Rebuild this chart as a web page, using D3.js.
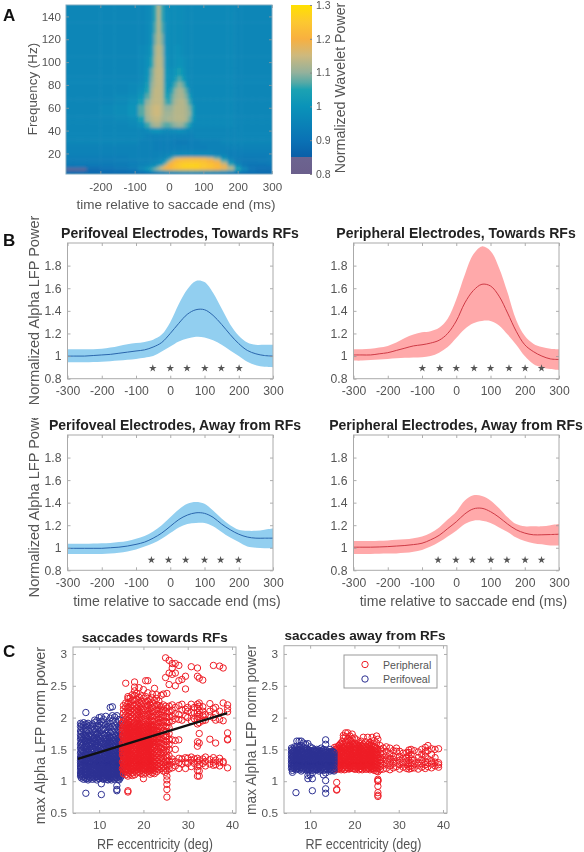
<!DOCTYPE html>
<html><head><meta charset="utf-8">
<script src="https://cdn.jsdelivr.net/npm/d3@7"></script>
<style>html,body{margin:0;padding:0;background:#fff}svg{display:block;filter:blur(.35px)}text{font-family:"Liberation Sans",Arial,sans-serif}</style>
</head><body><svg id="c" width="584" height="852"></svg>
<script>
// ---------- Panel A data
const heatTimes=[-300,-260,-220,-180,-140,-100,-80,-60,-50,-40,-30,-20,-10,0,10,20,30,40,50,60,70,80,100,120,140,160,180,200,220,240,270,300];
const heatFreqs=[150,140,130,120,110,100,90,85,80,75,70,65,60,55,50,45,40,35,30,25,20,18,16,14,12,10,8,6,4,2];
const heatValues=[
[96,96,96,96,96,96,96,97,98,106,113,106,99,98,98,98,98,98,97,97,97,97,97,97,97,97,97,96,96,96,96,96],
[96,96,96,96,96,96,96,97,98,106,113,106,99,98,98,98,98,98,97,97,97,97,97,97,97,97,97,96,96,96,96,96],
[96,96,96,96,96,96,96,97,99,107,113,107,99,98,98,98,98,98,97,97,97,97,97,97,97,97,97,96,96,96,96,96],
[96,96,96,96,96,96,96,97,100,109,113,109,99,98,98,98,98,98,97,97,97,97,97,97,97,97,97,96,96,96,96,96],
[96,96,96,96,96,96,97,98,102,111,114,111,100,98,98,99,99,98,97,97,97,97,97,97,97,97,97,96,96,96,96,96],
[96,96,96,96,96,96,97,99,105,112,114,112,101,98,98,99,100,99,98,97,97,97,97,97,97,97,97,96,96,96,96,96],
[96,96,96,96,96,96,97,100,108,113,114,113,102,99,99,101,104,101,98,97,97,97,97,97,97,97,97,96,96,96,96,96],
[96,96,96,96,96,96,97,101,109,113,114,113,102,99,100,103,107,104,99,97,97,97,97,97,97,97,97,96,96,96,96,96],
[96,96,96,96,96,97,98,103,110,113,114,113,103,99,102,107,110,108,102,97,97,97,97,97,97,97,97,96,96,96,96,96],
[96,96,96,96,96,97,99,105,111,114,114,113,104,100,106,110,112,111,107,98,97,97,97,97,97,97,97,96,96,96,96,96],
[96,96,96,96,97,98,101,107,112,114,114,113,105,103,108,111,112,112,109,103,97,97,97,97,97,97,97,96,96,96,96,96],
[96,96,96,96,97,99,104,110,113,114,114,113,107,105,109,112,113,113,111,106,98,97,97,97,97,97,97,96,96,96,96,96],
[96,96,96,97,98,100,107,112,114,115,115,113,110,110,111,113,113,113,112,109,103,97,97,97,97,97,97,96,96,96,96,96],
[96,96,96,97,98,100,107,112,114,115,115,113,111,111,112,113,113,113,112,110,103,97,97,97,97,97,97,96,96,96,96,96],
[96,96,96,96,97,98,104,111,113,114,114,112,111,112,112,113,113,113,112,108,101,97,97,97,97,97,97,96,96,96,96,96],
[96,96,96,96,96,97,99,106,110,112,112,109,107,107,109,110,111,110,107,103,97,97,97,97,97,97,97,96,96,96,96,96],
[96,96,96,96,96,96,96,97,99,100,100,98,97,97,98,98,99,98,97,96,96,96,96,96,96,96,96,96,96,96,96,96],
[96,96,96,96,96,96,96,95,95,95,95,95,95,95,95,95,95,95,95,95,95,96,96,96,96,96,96,96,96,96,96,96],
[96,96,96,96,96,96,95,95,95,94,94,94,94,94,94,93,93,93,93,94,94,94,95,95,95,96,96,96,96,96,96,96],
[95,95,95,95,95,95,95,95,95,94,94,94,94,94,94,94,94,94,94,94,94,94,94,95,95,95,95,95,95,95,95,95],
[95,95,95,95,95,95,95,95,95,95,95,95,95,95,96,96,96,96,96,96,96,96,96,96,95,95,94,94,94,94,94,94],
[94,94,94,94,94,95,95,95,95,95,95,95,96,97,98,98,99,99,99,99,99,99,99,98,98,96,94,94,93,93,93,94],
[94,94,94,94,94,95,95,95,95,95,96,96,97,99,108,114,116,117,118,118,118,118,117,114,108,99,95,93,93,93,93,94],
[93,93,93,93,94,94,95,95,95,96,96,97,99,108,116,120,122,122,123,123,123,123,122,120,116,106,96,93,92,92,93,93],
[93,93,93,93,93,94,95,95,96,96,97,100,106,116,120,123,124,125,125,125,125,125,124,122,120,112,100,94,92,92,92,93],
[92,92,92,92,93,94,95,96,97,98,100,105,114,120,122,124,125,126,127,127,127,127,125,124,122,117,106,96,92,91,91,92],
[90,90,90,91,92,94,96,98,100,103,109,115,119,121,122,124,125,127,127,127,127,127,125,124,122,119,112,102,94,91,90,90],
[84,85,88,90,91,92,97,102,106,110,113,116,119,120,121,122,123,123,123,123,123,123,122,121,120,117,113,105,97,91,89,89],
[88,88,88,88,89,90,92,94,96,98,100,101,103,104,105,105,106,106,106,106,106,106,105,105,104,102,99,95,92,90,89,89],
[89,89,89,89,89,89,89,90,90,90,90,90,90,90,90,90,90,90,90,90,90,90,90,90,90,90,90,89,89,89,89,89]];
const colorValues=[0.8,0.85,0.851,0.9,1.0,1.05,1.07,1.1,1.15,1.2,1.25,1.3];
const colorStops=["#6b5f8c","#6c6490","#0a5fa8","#0a72b5","#0a93b9","#1ca2b2","#55a9a6","#93b19c","#cdb97e","#f8b040","#fcc830","#ffe000"];
const cbTicks=[0.8,0.9,1,1.1,1.2,1.3];
const heatXTicks=[-200,-100,0,100,200,300];
const heatYTicks=[20,40,60,80,100,120,140];
// ---------- Panel B data
const curveTimes=[-300,-275,-250,-225,-200,-175,-150,-125,-100,-75,-50,-25,0,25,50,75,100,125,150,175,200,225,250,275,300];
const periTowardMean=[1,1,1,1.005,1.01,1.015,1.025,1.035,1.045,1.055,1.08,1.12,1.2,1.29,1.37,1.41,1.41,1.36,1.28,1.19,1.11,1.05,1.02,1.005,1];
const periTowardUp=[1.06,1.06,1.06,1.06,1.065,1.075,1.09,1.105,1.115,1.125,1.145,1.19,1.3,1.46,1.59,1.665,1.655,1.56,1.42,1.28,1.18,1.12,1.1,1.1,1.1];
const periTowardLo=[.945,.945,.945,.947,.95,.955,.96,.968,.975,.985,1,1.04,1.085,1.13,1.155,1.17,1.165,1.14,1.1,1.05,1,.95,.92,.905,.9];
const phTowardMean=[1.01,1.01,1.01,1.02,1.03,1.05,1.07,1.09,1.1,1.115,1.14,1.2,1.31,1.47,1.58,1.635,1.62,1.53,1.38,1.22,1.1,1.04,1,.975,.97];
const phTowardUp=[1.06,1.06,1.065,1.075,1.09,1.12,1.16,1.19,1.21,1.22,1.25,1.33,1.5,1.72,1.9,1.97,1.93,1.78,1.56,1.32,1.18,1.11,1.08,1.065,1.06];
const phTowardLo=[.96,.96,.965,.97,.975,.98,.985,.988,.99,1,1.03,1.08,1.16,1.24,1.29,1.31,1.31,1.27,1.19,1.1,1,.93,.9,.885,.875];
const periAwayMean=[.995,.995,.995,.995,.995,1,1.005,1.015,1.03,1.05,1.085,1.13,1.19,1.25,1.29,1.31,1.305,1.27,1.21,1.16,1.12,1.095,1.085,1.085,1.085];
const periAwayUp=[1.035,1.035,1.035,1.037,1.04,1.043,1.05,1.06,1.08,1.105,1.145,1.2,1.27,1.34,1.39,1.405,1.39,1.33,1.26,1.2,1.16,1.15,1.15,1.16,1.17];
const periAwayLo=[.945,.945,.945,.945,.945,.948,.955,.967,.985,1.01,1.04,1.08,1.13,1.18,1.21,1.22,1.22,1.19,1.14,1.09,1.05,1.01,1,.995,.995];
const phAwayMean=[1.005,1.005,1.005,1.007,1.01,1.015,1.02,1.028,1.04,1.07,1.11,1.17,1.23,1.3,1.345,1.35,1.32,1.27,1.21,1.16,1.13,1.115,1.115,1.117,1.12];
const phAwayUp=[1.06,1.06,1.06,1.062,1.065,1.07,1.075,1.085,1.1,1.13,1.18,1.25,1.32,1.42,1.465,1.46,1.42,1.35,1.27,1.21,1.19,1.19,1.19,1.2,1.21];
const phAwayLo=[.945,.945,.945,.946,.948,.95,.955,.965,.98,1.01,1.05,1.1,1.15,1.21,1.24,1.24,1.22,1.18,1.14,1.09,1.06,1.04,1.03,1.02,1.02];
const starsPeriToward=[-51,0,49,101,149,201];
const starsPhToward=[-99,-48,0,52,100,154,201,249];
const starsPeriAway=[-55,-5,45,100,147,199];
const starsPhAway=[-53,-1,47,101,148,201,249];
const bXTicks=[-300,-200,-100,0,100,200,300];
const bYTicks=[0.8,1,1.2,1.4,1.6,1.8];
// ---------- Panel C data: [eccentricity, [powers...]]
const towardPeri=[
[5.8,[1.08,1.13,1.19,1.24,1.29,1.33,1.38,1.44,1.52,1.58,1.66,1.73,1.79,1.86,1.91]],
[6,[1.05,1.11,1.16,1.21,1.26,1.31,1.36,1.41,1.49,1.55,1.62,1.69,1.77,1.84,1.89]],
[6.5,[1.03,1.09,1.14,1.18,1.23,1.28,1.34,1.39,1.46,1.53,1.6,1.67,1.74,1.81,1.88,1.92]],
[7,[.81,1.04,1.1,1.15,1.2,1.25,1.3,1.35,1.42,1.5,1.57,1.63,1.7,1.78,1.85,1.9,2.08]],
[7.5,[1.02,1.07,1.12,1.17,1.22,1.27,1.32,1.37,1.43,1.51,1.59,1.65,1.72,1.8,1.87,1.91]],
[8,[1.06,1.11,1.16,1.21,1.26,1.31,1.36,1.41,1.48,1.54,1.61,1.68,1.75,1.83,1.88]],
[8.5,[1.03,1.08,1.13,1.19,1.24,1.29,1.33,1.39,1.45,1.52,1.58,1.64,1.71,1.79,1.86,1.9]],
[9,[1.05,1.1,1.15,1.2,1.25,1.3,1.35,1.4,1.47,1.56,1.62,1.69,1.76,1.82,1.92,1.96]],
[9.5,[1.02,1.07,1.12,1.18,1.23,1.28,1.34,1.38,1.44,1.5,1.59,1.66,1.73,1.81,1.87,1.95]],
[10,[1.04,1.09,1.14,1.19,1.24,1.29,1.34,1.41,1.48,1.55,1.63,1.7,1.77,1.84,1.9,2]],
[10.5,[.79,.96,1.06,1.11,1.16,1.21,1.26,1.31,1.36,1.42,1.49,1.57,1.64,1.72,1.8,1.88,1.94,2.01]],
[11,[1.03,1.08,1.13,1.18,1.23,1.28,1.33,1.39,1.46,1.53,1.6,1.67,1.74,1.83,1.9,1.97]],
[11.5,[1.05,1.1,1.15,1.2,1.25,1.3,1.35,1.4,1.47,1.54,1.61,1.68,1.75,1.81,1.89,2.02]],
[12,[1.02,1.07,1.12,1.17,1.22,1.27,1.32,1.37,1.43,1.51,1.58,1.65,1.72,1.79,1.86,1.93]],
[12.5,[1.04,1.09,1.14,1.19,1.24,1.3,1.36,1.42,1.49,1.56,1.62,1.69,1.76,1.84,1.91,1.99,2.16]],
[13,[1.06,1.11,1.16,1.21,1.26,1.31,1.37,1.44,1.5,1.57,1.64,1.71,1.78,1.86,1.95,2.03,2.17]],
[13.5,[1.03,1.08,1.13,1.18,1.23,1.28,1.33,1.39,1.45,1.52,1.59,1.66,1.74,1.82,1.88,2.01]],
[14,[.85,.87,.93,1.05,1.1,1.15,1.2,1.25,1.3,1.35,1.41,1.48,1.55,1.63,1.7,1.77,1.85,1.92,2.03]],
[14.5,[1.02,1.07,1.12,1.17,1.22,1.27,1.32,1.38,1.44,1.51,1.58,1.65,1.73,1.8,1.87,1.97]],
[15,[1.08,1.13,1.18,1.24,1.3,1.36,1.42,1.5,1.6,1.7,1.79,1.88,1.96]],
[5.9,[1.1,1.15,1.22,1.27,1.35,1.47,1.6,1.7]],
[6.25,[1.07,1.12,1.17,1.25,1.33,1.4,1.48,1.57,1.65]],
[6.75,[1.06,1.13,1.2,1.27,1.32,1.37,1.44,1.54,1.64,1.72]],
[7.25,[1.09,1.14,1.19,1.24,1.34,1.4,1.47,1.55,1.68]],
[7.75,[1.04,1.1,1.15,1.23,1.29,1.35,1.45,1.56,1.63,1.7]],
[8.25,[1.08,1.14,1.18,1.23,1.28,1.38,1.46,1.51,1.6,1.72]],
[8.75,[1.05,1.11,1.17,1.22,1.27,1.36,1.42,1.5,1.62,1.67]],
[9.25,[1.07,1.12,1.18,1.27,1.32,1.37,1.44,1.53,1.6,1.74]],
[9.75,[1.05,1.1,1.16,1.21,1.26,1.31,1.41,1.47,1.57,1.65,1.75]],
[10.25,[1.07,1.12,1.17,1.22,1.27,1.32,1.39,1.45,1.52,1.61,1.68]],
[10.75,[1.04,1.09,1.14,1.19,1.24,1.29,1.34,1.44,1.51,1.59,1.7]],
[11.25,[1.06,1.11,1.16,1.21,1.26,1.31,1.37,1.43,1.5,1.57,1.65,1.72]],
[11.75,[1.03,1.08,1.13,1.18,1.23,1.28,1.33,1.38,1.45,1.56,1.63]],
[12.25,[1.05,1.1,1.15,1.2,1.25,1.35,1.41,1.48,1.54,1.61,1.69]],
[12.75,[1.02,1.07,1.12,1.17,1.22,1.28,1.34,1.4,1.47,1.53,1.6,1.67]],
[13.25,[1.05,1.1,1.15,1.2,1.25,1.3,1.35,1.42,1.48,1.55,1.62,1.69]],
[13.75,[1.06,1.11,1.16,1.21,1.26,1.31,1.37,1.43,1.5,1.57,1.65,1.72]],
[14.25,[1.03,1.08,1.13,1.19,1.24,1.29,1.34,1.4,1.46,1.53,1.61,1.68]],
[14.75,[1.05,1.1,1.15,1.2,1.25,1.34,1.4,1.47,1.55,1.62,1.71]]];
const towardPh=[
[15.5,[1.12,1.17,1.22,1.27,1.33,1.38,1.44,1.5,1.56,1.62,1.68,1.74,1.81,1.87,1.94,2,2.07,2.13,2.19]],
[16,[1.1,1.15,1.2,1.26,1.31,1.36,1.42,1.47,1.53,1.6,1.66,1.72,1.78,1.84,1.91,1.97,2.04,2.1,2.17,2.23,2.54]],
[16.5,[.83,.85,1.08,1.14,1.19,1.24,1.3,1.35,1.41,1.48,1.54,1.59,1.65,1.71,1.77,1.83,1.9,1.96,2.02,2.09,2.16,2.22,2.3,2.33]],
[17,[1.11,1.16,1.21,1.27,1.32,1.37,1.43,1.49,1.55,1.61,1.67,1.73,1.79,1.86,1.92,1.99,2.05,2.11,2.18,2.25,2.31]],
[17.5,[1.09,1.13,1.18,1.23,1.29,1.34,1.4,1.46,1.52,1.58,1.64,1.7,1.76,1.82,1.88,1.95,2.01,2.08,2.14,2.2,2.28,2.36]],
[18,[1.1,1.16,1.21,1.26,1.32,1.38,1.44,1.5,1.56,1.63,1.69,1.75,1.81,1.87,1.93,1.99,2.06,2.12,2.19,2.27,2.35,2.42,2.48,2.56]],
[18.5,[1.13,1.18,1.24,1.29,1.35,1.41,1.47,1.53,1.59,1.65,1.71,1.77,1.84,1.9,1.96,2.03,2.09,2.15,2.21,2.29,2.38]],
[19,[1.14,1.19,1.25,1.3,1.36,1.42,1.48,1.54,1.6,1.66,1.72,1.78,1.85,1.91,1.98,2.04,2.1,2.17,2.24,2.32,2.47]],
[19.5,[1.12,1.17,1.22,1.28,1.33,1.39,1.45,1.51,1.57,1.62,1.68,1.74,1.8,1.87,1.93,2,2.06,2.13,2.2,2.26,2.34]],
[20,[1.04,1.11,1.16,1.21,1.27,1.34,1.4,1.46,1.52,1.58,1.64,1.7,1.76,1.83,1.89,1.95,2.02,2.08,2.14,2.22,2.3,2.44]],
[20.5,[1.13,1.18,1.23,1.29,1.35,1.41,1.47,1.53,1.59,1.65,1.71,1.78,1.84,1.9,1.97,2.03,2.11,2.18,2.25,2.33,2.58]],
[21,[1.15,1.2,1.26,1.31,1.37,1.43,1.49,1.55,1.61,1.67,1.73,1.79,1.86,1.92,1.98,2.05,2.12,2.19,2.26,2.39,2.58]],
[21.5,[1.11,1.16,1.22,1.28,1.33,1.39,1.45,1.51,1.57,1.63,1.69,1.75,1.81,1.88,1.94,2.01,2.07,2.14,2.21,2.28]],
[22,[1.13,1.19,1.24,1.3,1.36,1.42,1.48,1.54,1.6,1.66,1.72,1.77,1.83,1.89,1.95,2.02,2.09,2.16,2.23,2.31,2.37]],
[22.5,[1.12,1.17,1.23,1.29,1.34,1.4,1.46,1.52,1.58,1.64,1.7,1.76,1.82,1.89,1.96,2.03,2.1,2.18,2.27,2.46]],
[23,[1.15,1.2,1.25,1.31,1.37,1.43,1.5,1.56,1.62,1.68,1.74,1.8,1.87,1.93,2,2.06,2.13,2.2,2.3,2.36]],
[23.5,[1.18,1.23,1.28,1.34,1.41,1.47,1.54,1.61,1.67,1.73,1.79,1.86,1.92,1.98,2.05,2.12,2.19,2.26]],
[24,[1.2,1.26,1.32,1.38,1.45,1.52,1.6,1.68,1.76,1.84,1.92,2,2.09,2.17,2.35]],
[24.5,[1.16,1.22,1.29,1.36,1.44,1.5,1.58,1.65,1.72,1.8,1.88,1.95,2.03,2.12,2.2,2.37]],
[25,[1.14,1.2,1.27,1.33,1.4,1.48,1.56,1.63,1.7,1.78,1.86,1.94,2.02,2.1,2.18,2.63,2.94]],
[25.3,[.75,.87,.95,1.02,1.08,1.17,1.25,1.31,1.38,1.46,1.54,1.62,1.7,1.78,1.85,1.92,2,2.07,2.15,2.38]],
[25.8,[1.19,1.25,1.32,1.4,1.5,1.58,1.66,1.75,1.84,1.93,2.01,2.09,2.18,2.52,2.7,2.9]],
[26.5,[1.21,1.3,1.35,1.65,1.95,2.02,2.12,2.2,2.68,2.78,2.85]],
[27.2,[1.24,1.31,1.5,1.64,1.98,2.06,2.16,2.5,2.7,2.85]],
[28,[1.2,1.29,1.36,1.65,1.97,2.05,2.19,2.58,2.82]],
[28.7,[1.27,1.35,1.96,2.12,2.21,2.6]],
[29.5,[1.2,1.3,1.37,2.02,2.13,2.45,2.65]],
[30,[1.28,1.36,2,2.1,2.16]],
[30.8,[1.23,1.33,1.38,1.95,2.08,2.21,2.8]],
[31.5,[1.28,1.35,1.98,2.07,2.16]],
[32.2,[1.08,1.17,1.23,1.3,1.36,1.55,1.62,1.9,1.97,2.02,2.08,2.15,2.21,2.65,2.78]],
[32.6,[1.08,1.16,1.26,1.33,1.6,1.75,1.92,1.99,2.05,2.11,2.18,2.23,2.62]],
[33.4,[1.28,1.35,1.95,2.03,2.1,2.17,2.59]],
[34,[1.24,1.31,1.38,1.96,2.05]],
[35,[1.27,1.34,1.66,2.03,2.1,2.22]],
[35.8,[1.25,1.3,1.37,2,2.14,2.82]],
[36.3,[1.26,1.33,1.6,1.96,2.06,2.16]],
[37.2,[1.24,1.3,1.36,1.97,2.1,2.81]],
[38,[1.29,1.31,1.95,2.23,2.78]],
[39,[1.21,1.65,1.66,1.76,2.09,2.14,2.2]],
[15.25,[1.2,1.3,1.41,1.47,1.53,1.6,1.71,1.78,1.84,1.92]],
[15.75,[1.18,1.24,1.29,1.35,1.4,1.46,1.52,1.58,1.65,1.7,1.76,1.83,1.89]],
[16.25,[1.18,1.23,1.28,1.34,1.39,1.45,1.51,1.57,1.63,1.68,1.74,1.8,1.88]],
[16.75,[1.22,1.3,1.36,1.42,1.47,1.53,1.58,1.64,1.7,1.75,1.81,1.85,1.93]],
[17.25,[1.19,1.25,1.31,1.35,1.41,1.48,1.51,1.57,1.62,1.69,1.75,1.8,1.84]],
[17.75,[1.2,1.24,1.28,1.36,1.43,1.49,1.55,1.61,1.66,1.72,1.78,1.85,1.91]],
[18.25,[1.23,1.3,1.35,1.4,1.46,1.53,1.59,1.66,1.72,1.78,1.84]],
[18.75,[1.21,1.27,1.33,1.38,1.44,1.5,1.56,1.62,1.68,1.74,1.8,1.87]],
[19.25,[1.22,1.28,1.34,1.39,1.45,1.51,1.57,1.63,1.69,1.75,1.82,1.88]],
[19.75,[1.19,1.25,1.31,1.36,1.42,1.48,1.54,1.6,1.66,1.72,1.78,1.85]],
[20.25,[1.2,1.25,1.32,1.38,1.44,1.5,1.55,1.61,1.67,1.73,1.8,1.86]],
[20.75,[1.22,1.28,1.34,1.4,1.46,1.51,1.57,1.63,1.69,1.75,1.82]],
[21.25,[1.18,1.24,1.3,1.35,1.41,1.47,1.53,1.59,1.65,1.71,1.77,1.84]],
[21.75,[1.21,1.26,1.32,1.38,1.44,1.5,1.62,1.68,1.74,1.8,1.86]],
[22.25,[1.19,1.25,1.31,1.37,1.43,1.55,1.61,1.67,1.79,1.85]]];
const awayPeri=[
[5.8,[1.2,1.24,1.28,1.32,1.36,1.4,1.44,1.48,1.52]],
[6,[1.14,1.17,1.22,1.26,1.3,1.34,1.38,1.42,1.46,1.5]],
[6.5,[1.21,1.25,1.29,1.33,1.37,1.41,1.45,1.49,1.54]],
[6.8,[.82,1.18,1.23,1.27,1.31,1.35,1.39,1.43,1.47,1.52]],
[7,[1.21,1.25,1.29,1.33,1.37,1.41,1.45,1.49,1.55,1.63]],
[7.5,[1.19,1.24,1.28,1.32,1.36,1.4,1.44,1.48,1.54,1.63]],
[8,[1.16,1.21,1.26,1.3,1.34,1.38,1.42,1.46,1.51,1.56,1.63]],
[8.5,[1.2,1.25,1.29,1.33,1.37,1.41,1.45,1.49,1.53,1.6]],
[9,[1.18,1.23,1.27,1.31,1.35,1.39,1.43,1.47,1.51,1.58]],
[9.5,[1.04,1.09,1.16,1.21,1.26,1.3,1.34,1.38,1.42,1.46,1.5,1.59]],
[10,[1.1,1.19,1.24,1.28,1.32,1.36,1.4,1.44,1.48,1.54]],
[10.5,[.85,1.04,1.13,1.17,1.22,1.27,1.31,1.35,1.39,1.43,1.47,1.52]],
[11,[1.2,1.25,1.29,1.33,1.37,1.41,1.45,1.49]],
[11.5,[1.18,1.23,1.27,1.31,1.35,1.39,1.43,1.47,1.5]],
[12,[1.16,1.21,1.26,1.3,1.34,1.38,1.42,1.46,1.49]],
[12.5,[1.19,1.24,1.28,1.32,1.36,1.4,1.44,1.48,1.52]],
[13,[1.1,1.17,1.22,1.27,1.31,1.35,1.39,1.43,1.47,1.5]],
[13.5,[.81,.88,1.01,1.13,1.2,1.25,1.29,1.33,1.37,1.41,1.45,1.49,1.58,1.65]],
[14,[1.18,1.23,1.27,1.31,1.35,1.39,1.43,1.47]],
[14.5,[1.16,1.21,1.26,1.3,1.34,1.38,1.42,1.46,1.5]],
[15,[1.17,1.22,1.27,1.31,1.35,1.39,1.43,1.47]],
[15.4,[1.16,1.2,1.25,1.29,1.33,1.37,1.41,1.45]],
[6.25,[1.2,1.24,1.28,1.35,1.39,1.47]],
[7.25,[1.2,1.23,1.3,1.34,1.42,1.5]],
[7.75,[1.22,1.26,1.33,1.38,1.43,1.5]],
[8.25,[1.18,1.24,1.31,1.36,1.4,1.47]],
[8.75,[1.22,1.27,1.3,1.35,1.43,1.51]],
[9.25,[1.2,1.25,1.29,1.37,1.41,1.49]],
[9.75,[1.18,1.23,1.28,1.34,1.4,1.44]],
[10.25,[1.21,1.26,1.3,1.34,1.42,1.46]],
[10.75,[1.19,1.25,1.33,1.37,1.41,1.49]],
[11.25,[1.18,1.22,1.27,1.35,1.39,1.47]],
[11.75,[1.2,1.25,1.29,1.33,1.41,1.45]],
[12.25,[1.18,1.23,1.28,1.36,1.4,1.44]],
[12.75,[1.21,1.26,1.3,1.34,1.38,1.46]],
[13.25,[1.18,1.23,1.27,1.35,1.39,1.43]],
[13.75,[1.2,1.25,1.29,1.33,1.41,1.45]],
[14.25,[1.19,1.24,1.28,1.36,1.4,1.44]],
[14.75,[1.18,1.24,1.29,1.33,1.37,1.45]]];
const awayPh=[
[15.5,[1.18,1.24,1.3,1.36,1.42,1.47,1.53]],
[16,[.86,.87,.98,1.19,1.23,1.28,1.33,1.38,1.43,1.48,1.54]],
[16.5,[1.2,1.25,1.3,1.35,1.4,1.45,1.5,1.56]],
[17,[1.18,1.24,1.29,1.34,1.39,1.44,1.49,1.54,1.6]],
[17.5,[1.22,1.27,1.32,1.37,1.42,1.47,1.52,1.58,1.68,1.72]],
[18,[1.19,1.24,1.29,1.34,1.39,1.44,1.5,1.55,1.62,1.7,1.76]],
[18.5,[1.21,1.26,1.31,1.36,1.41,1.46,1.51,1.57,1.66,1.76]],
[19,[1.2,1.25,1.3,1.35,1.4,1.45,1.5,1.56,1.64,1.71]],
[19.5,[1.22,1.27,1.32,1.37,1.42,1.47,1.53,1.59,1.67,1.74]],
[20,[1.19,1.24,1.29,1.34,1.39,1.44,1.49,1.55,1.6,1.68]],
[20.5,[1.21,1.26,1.31,1.36,1.41,1.46,1.52,1.58,1.65]],
[21,[1.18,1.23,1.28,1.33,1.38,1.43,1.48,1.54,1.6]],
[21.5,[1.2,1.25,1.3,1.35,1.4,1.45,1.5,1.56,1.63]],
[22,[1.22,1.27,1.32,1.37,1.42,1.47,1.52,1.58,1.69]],
[22.5,[1.19,1.24,1.29,1.34,1.39,1.44,1.49,1.55,1.62]],
[23,[1.21,1.26,1.31,1.36,1.41,1.46,1.51,1.57,1.69]],
[23.5,[1.18,1.23,1.28,1.33,1.38,1.43,1.48,1.54,1.61]],
[24,[1.2,1.25,1.3,1.35,1.4,1.45,1.5,1.59,1.69]],
[24.5,[1.17,1.22,1.27,1.32,1.37,1.42,1.47,1.53,1.64]],
[25,[1.16,1.21,1.26,1.31,1.36,1.41,1.46,1.52,1.6,1.71]],
[25.3,[.76,.78,.82,.92,1,1.01,1.03,1.15,1.2,1.25,1.3,1.36,1.42,1.5,1.66]],
[25.8,[1.18,1.23,1.28,1.33,1.38,1.44,1.5,1.56]],
[26.5,[1.19,1.25,1.31,1.37,1.43,1.52]],
[27.2,[1.2,1.27,1.33,1.4,1.47,1.54]],
[28,[1.18,1.24,1.3,1.36,1.43,1.52]],
[28.8,[1.21,1.28,1.34,1.4,1.48]],
[29.5,[1.23,1.3,1.37,1.47,1.52]],
[30.2,[1.19,1.26,1.33,1.39,1.47]],
[31,[1.22,1.29,1.36,1.44]],
[31.8,[1.2,1.26,1.32,1.38,1.45]],
[32.3,[1.19,1.23,1.28,1.33,1.39,1.45,1.49]],
[32.8,[1.2,1.24,1.29,1.35,1.42,1.5]],
[33.5,[1.21,1.27,1.33,1.48]],
[34.4,[1.19,1.25,1.3,1.37,1.46]],
[35.2,[1.22,1.28,1.34,1.42,1.5]],
[36,[1.2,1.26,1.31,1.39,1.46,1.53]],
[36.6,[1.23,1.29,1.35,1.48,1.56]],
[37.4,[1.21,1.27,1.32,1.42,1.51]],
[38.2,[1.24,1.3,1.37,1.5]],
[39,[1.22,1.26,1.29,1.51]],
[15.75,[1.2,1.26,1.32,1.38,1.44,1.5]],
[16.25,[1.19,1.27,1.33,1.37,1.43,1.52]],
[16.75,[1.22,1.27,1.32,1.42,1.47,1.58]],
[17.25,[1.2,1.26,1.31,1.36,1.46,1.51,1.62]],
[17.75,[1.18,1.25,1.3,1.35,1.4,1.49,1.54]],
[18.25,[1.21,1.27,1.32,1.37,1.43,1.48,1.6]],
[18.75,[1.19,1.24,1.29,1.35,1.43,1.49,1.55]],
[19.25,[1.22,1.27,1.33,1.38,1.43,1.48,1.62]],
[19.75,[1.2,1.25,1.3,1.35,1.44,1.5,1.57]],
[20.25,[1.19,1.24,1.28,1.33,1.38,1.44,1.49,1.54]],
[20.75,[1.22,1.27,1.33,1.39,1.44,1.5,1.56]],
[21.25,[1.2,1.25,1.3,1.37,1.43,1.48,1.53]],
[21.75,[1.18,1.23,1.28,1.34,1.42,1.47,1.55]],
[22.25,[1.21,1.26,1.31,1.36,1.41,1.46,1.51]],
[22.75,[1.19,1.24,1.29,1.35,1.42,1.48,1.54]],
[23.25,[1.2,1.25,1.3,1.35,1.4,1.45,1.5,1.58]],
[23.75,[1.22,1.27,1.32,1.38,1.44,1.5,1.56]],
[24.25,[1.19,1.24,1.29,1.34,1.39,1.44,1.49,1.55]],
[24.75,[1.21,1.26,1.31,1.36,1.42,1.48,1.54]]];
const cXTicks=[10,20,30,40];
const cYTicks=[0.5,1,1.5,2,2.5,3];
const cYLabels=["0.5","1","1.5","2","2.5","3"];
const fitLineX=[5.2,38.9];
const fitLineY=[1.35,2.07];

// ---------- Drawing
const svg=d3.select("#c");
const defs=svg.append("defs");
const GRAY="#555", AX="#999";
function txt(x,y,s,o={}){const t=svg.append("text").attr("x",x).attr("y",y).text(s)
 .attr("font-size",o.size||13).attr("fill",o.fill||GRAY).attr("text-anchor",o.anchor||"middle")
 .attr("font-weight",o.bold?"bold":"normal");
 if(o.rot)t.attr("transform",`rotate(${o.rot} ${x} ${y})`);return t;}
function frame(x,y,xTicks,yTicks,o){
 const [x0,x1]=x.range(),[y1,y0]=y.range();
 const g=svg.append("g");
 const ax=(gen,tx)=>{const a=g.append("g").attr("transform",tx).call(gen);
   a.attr("font-family",'"Liberation Sans",Arial,sans-serif').attr("font-size",o.tickSize||12);
   a.select(".domain").remove();a.selectAll("line").attr("stroke",AX).attr("stroke-width",.8);
   a.selectAll("text").attr("fill",GRAY);return a;};
 ax(d3.axisBottom(x).tickValues(xTicks).tickSize(-3).tickPadding(o.xPad||5).tickFormat(o.xFmt||(d=>d)),`translate(0,${y1})`);
 ax(d3.axisLeft(y).tickValues(yTicks).tickSize(-3).tickPadding(o.yPad||6).tickFormat(o.yFmt||(d=>d)),`translate(${x0},0)`);
 ax(d3.axisTop(x).tickValues(xTicks).tickSize(-3).tickFormat(""),`translate(0,${y0})`);
 ax(d3.axisRight(y).tickValues(yTicks).tickSize(-3).tickFormat(""),`translate(${x1},0)`);
 g.append("rect").attr("x",x0).attr("y",y0).attr("width",x1-x0).attr("height",y1-y0).attr("fill","none").attr("stroke",o.box||"#aaa").attr("stroke-width",1);
}
// Panel A
const ax=d3.scaleLinear().domain([-300,300]).range([66,272]);
const ay=d3.scaleLinear().domain([2,150]).range([174,5]);
const col=d3.scaleLinear().domain(colorValues).range(colorStops).clamp(true);
defs.append("clipPath").attr("id","hc").append("rect").attr("x",66).attr("y",5).attr("width",206).attr("height",169);
defs.append("filter").attr("id","bl").attr("x","-5%").attr("y","-5%").attr("width","110%").attr("height","110%")
 .append("feGaussianBlur").attr("stdDeviation",1.5).attr("edgeMode","duplicate");
const edge=(arr,i,lo,hi)=>[i===0?lo:(arr[i-1]+arr[i])/2,i===arr.length-1?hi:(arr[i]+arr[i+1])/2];
const hcells=[];
heatValues.forEach((row,r)=>row.forEach((v,c)=>hcells.push({r,c,v})));
svg.append("g").attr("clip-path","url(#hc)").append("g").attr("filter","url(#bl)")
 .selectAll("rect").data(hcells).join("rect")
 .attr("x",d=>ax(edge(heatTimes,d.c,-310,310)[0]))
 .attr("width",d=>ax(edge(heatTimes,d.c,-310,310)[1])-ax(edge(heatTimes,d.c,-310,310)[0])+.5)
 .attr("y",d=>ay(edge(heatFreqs,d.r,156,0)[0]))
 .attr("height",d=>ay(edge(heatFreqs,d.r,156,0)[1])-ay(edge(heatFreqs,d.r,156,0)[0])+.5)
 .attr("fill",d=>col(d.v/100));
frame(ax,ay,heatXTicks,heatYTicks,{box:"#7fa9bf",tickSize:11.6,xPad:9,yPad:5});
txt(176,209,"time relative to saccade end (ms)",{size:13.5});
txt(37,89,"Frequency (Hz)",{size:13.4,rot:-90});
txt(3,21,"A",{size:17,bold:true,anchor:"start",fill:"#111"});
// colorbar
const cb=d3.scaleLinear().domain([0.8,1.3]).range([174,5]);
const lg=defs.append("linearGradient").attr("id","cbg").attr("x1",0).attr("y1",1).attr("x2",0).attr("y2",0);
lg.selectAll("stop").data(colorValues).join("stop")
 .attr("offset",d=>(d-0.8)/0.5).attr("stop-color",(d,i)=>colorStops[i]);
svg.append("rect").attr("x",291).attr("y",5).attr("width",21).attr("height",169).attr("fill","url(#cbg)");
const cbA=svg.append("g").attr("transform","translate(312,0)").call(d3.axisRight(cb).tickValues(cbTicks).tickSize(-2).tickPadding(4).tickFormat(d=>d));
cbA.attr("font-family",'"Liberation Sans",Arial,sans-serif').attr("font-size",10.5);
cbA.select(".domain").remove();cbA.selectAll("line").attr("stroke","#888");cbA.selectAll("text").attr("fill",GRAY);
txt(345,88,"Normalized Wavelet Power",{size:14.2,rot:-90});

// Panel B
const panels=[
 {x:[67.5,273],y:[378.7,243],m:periTowardMean,u:periTowardUp,l:periTowardLo,s:starsPeriToward,f:"#92cff0",c:"#2a66ad",t:"Perifoveal Electrodes, Towards RFs",tx:180,ty:238},
 {x:[353.5,559],y:[378.7,243],m:phTowardMean,u:phTowardUp,l:phTowardLo,s:starsPhToward,f:"#ffa9aa",c:"#cf3a45",t:"Peripheral Electrodes, Towards RFs",tx:456,ty:238},
 {x:[67.5,273],y:[570.3,435],m:periAwayMean,u:periAwayUp,l:periAwayLo,s:starsPeriAway,f:"#92cff0",c:"#2a66ad",t:"Perifoveal Electrodes, Away from RFs",tx:175,ty:430},
 {x:[353.5,559],y:[570.3,435],m:phAwayMean,u:phAwayUp,l:phAwayLo,s:starsPhAway,f:"#ffa9aa",c:"#cf3a45",t:"Peripheral Electrodes, Away from RFs",tx:456,ty:430}];
panels.forEach(p=>{
 const x=d3.scaleLinear().domain([-300,300]).range(p.x);
 const y=d3.scaleLinear().domain([0.8,2]).range(p.y);
 svg.append("path").attr("fill",p.f).attr("d",d3.area().x((d,i)=>x(curveTimes[i])).y0((d,i)=>y(p.l[i])).y1((d,i)=>y(p.u[i])).curve(d3.curveCatmullRom)(curveTimes));
 svg.append("path").attr("fill","none").attr("stroke",p.c).attr("stroke-width",1).attr("d",d3.line().x((d,i)=>x(curveTimes[i])).y((d,i)=>y(p.m[i])).curve(d3.curveCatmullRom)(curveTimes));
 svg.append("g").selectAll("path").data(p.s).join("path").attr("d",d3.symbol(d3.symbolStar,18)).attr("fill","#555")
  .attr("transform",d=>`translate(${x(d)},${y(0.892)})`);
 frame(x,y,bXTicks,bYTicks,{tickSize:12.2,xPad:8,yPad:6});
 txt(p.tx,p.ty,p.t,{size:14.05,bold:true,fill:"#222"});
});
txt(3,246,"B",{size:17,bold:true,anchor:"start",fill:"#111"});
txt(39,310.5,"Normalized Alpha LFP Power",{size:14.55,rot:-90});
txt(39,502.5,"Normalized Alpha LFP Power",{size:14.55,rot:-90});
// the lower label is cut off at its top in the figure
svg.append("rect").attr("x",24).attr("y",404).attr("width",20).attr("height",14).attr("fill","#fff");
txt(177,606,"time relative to saccade end (ms)",{size:14.1});
txt(463.5,606,"time relative to saccade end (ms)",{size:14.1});

// Panel C
const cPanels=[
 {x:[73,236],dx:[4.1,40.9],y:[813,647],dy:[0.5,3.11],g:[[towardPeri,"#2c3092"],[towardPh,"#ee1c25"]],t:"saccades towards RFs",tx:154.7,ty:642,line:true,lbl:155},
 {x:[284,447],dx:[4.1,40.9],y:[813,645.7],dy:[0.5,3.13],g:[[awayPh,"#ee1c25"],[awayPeri,"#2c3092"]],t:"saccades away from RFs",tx:365,ty:640,lbl:363.5}];
cPanels.forEach(p=>{
 const x=d3.scaleLinear().domain(p.dx).range(p.x);
 const y=d3.scaleLinear().domain(p.dy).range(p.y);
 p.g.forEach(([cols,color])=>{
  const pts=cols.flatMap(([e,ys])=>ys.map(v=>[e,v]));
  svg.append("g").selectAll("circle").data(pts).join("circle")
   .attr("cx",d=>x(d[0])).attr("cy",d=>y(d[1])).attr("r",3.2)
   .attr("fill","none").attr("stroke",color).attr("stroke-width",1);
 });
 if(p.line) svg.append("path").attr("fill","none").attr("stroke","#111").attr("stroke-width",2.4)
   .attr("d",d3.line().x((d,i)=>x(fitLineX[i])).y((d,i)=>y(fitLineY[i]))(fitLineX));
 frame(x,y,cXTicks,cYTicks,{tickSize:11.8,xPad:8,yPad:6,yFmt:(d,i)=>cYLabels[i]});
 txt(p.tx,p.ty,p.t,{size:13.55,bold:true,fill:"#222"});
 txt(p.lbl,849,"RF eccentricity (deg)",{size:13.8}).attr("textLength",116).attr("lengthAdjust","spacingAndGlyphs");
});
txt(3,657,"C",{size:17,bold:true,anchor:"start",fill:"#111"});
txt(45,735.5,"max Alpha LFP norm power",{size:14.4,rot:-90});
txt(256,730,"max Alpha LFP norm power",{size:13.8,rot:-90});
// legend
const legendNames=["Peripheral","Perifoveal"], legendColors=["#ee1c25","#2c3092"];
svg.append("rect").attr("x",344).attr("y",655).attr("width",93).attr("height",33).attr("fill","#fff").attr("stroke","#999");
legendNames.forEach((n,i)=>{
 svg.append("circle").attr("cx",365).attr("cy",664.5+i*14.5).attr("r",3.2).attr("fill","none").attr("stroke",legendColors[i]).attr("stroke-width",1);
 txt(383,668.5+i*14.5,n,{size:10.6,anchor:"start"});
});
</script></body></html>
